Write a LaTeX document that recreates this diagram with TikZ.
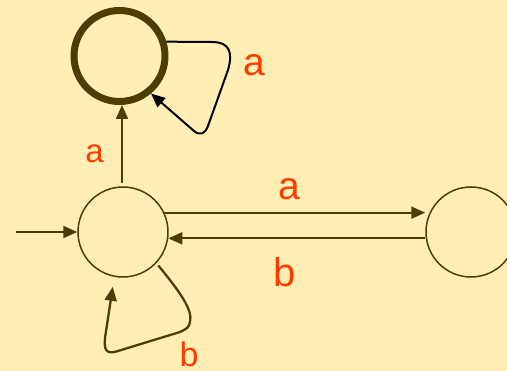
\documentclass[tikz,border=0pt]{standalone}
\usepackage{fontspec}
\setmainfont{Liberation Sans}
\usetikzlibrary{arrows.meta}
\definecolor{bgc}{HTML}{FFEFB5}
\definecolor{olive}{HTML}{4D3D00}
\definecolor{lbl}{HTML}{FF3C00}
\begin{document}
\begin{tikzpicture}[x=1pt,y=-1pt,
  state/.style={circle,draw=olive,line width=1.5pt,minimum size=90pt,inner sep=0pt},
  final/.style={circle,draw=olive,line width=7pt,minimum size=91pt,inner sep=0pt},
  arr/.style={draw=olive,line width=2pt,-{Triangle[length=14pt,width=12pt]}},
  loopk/.style={draw=black,line width=2pt,-{Triangle[length=14pt,width=12pt]}},
  lab/.style={text=lbl,inner sep=0pt}]
\fill[bgc] (0,0) rectangle (507,371);
\useasboundingbox (0,0) rectangle (507,371);
\node[final] (q1) at (119.5,56) {};
\node[state] (q0) at (123,232) {};
\node[state] (q2) at (471,232) {};
\coordinate (start) at (16,232);
\draw[arr] (start) -- (q0);
\draw[arr] (q0.north -| 122,0) ++(0,-3) coordinate (up0) (up0) -- (q1.south -| up0);
\draw[arr] (q0.25) -- (q2.west |- q0.25);
\draw[arr] (q2.west |- q0.-8) -- (q0.-8);
\draw[loopk] (q1.17) -- (212,42) .. controls (230,42) and (233,53) .. (228,70)
  -- (208,126) .. controls (205,134) and (200,136) .. (194,131) -- (q1.-50);
\draw[arr, line width=2.3pt, shorten >=10pt, shorten <=3pt] (q0.-43)
  .. controls (180,292) and (193,310) .. (190,322)
  .. controls (189,328) and (186,329) .. (180,332) -- (118,351)
  .. controls (106,355) and (104,350) .. (105,338) -- (q0.-101);
\node[lab,font=\fontsize{39}{39}\selectfont] (la1) at (254.5,65.5) {a};
\node[lab,font=\fontsize{33}{33}\selectfont] (la2) at (94.5,154) {a};
\node[lab,font=\fontsize{39}{39}\selectfont] (la3) at (289.5,189) {a};
\node[lab,font=\fontsize{40}{40}\selectfont] (lb1) at (284.5,272) {b};
\node[lab,font=\fontsize{34}{34}\selectfont,anchor=base] (lb2) at (189,367) {b};
\end{tikzpicture}
\end{document}
